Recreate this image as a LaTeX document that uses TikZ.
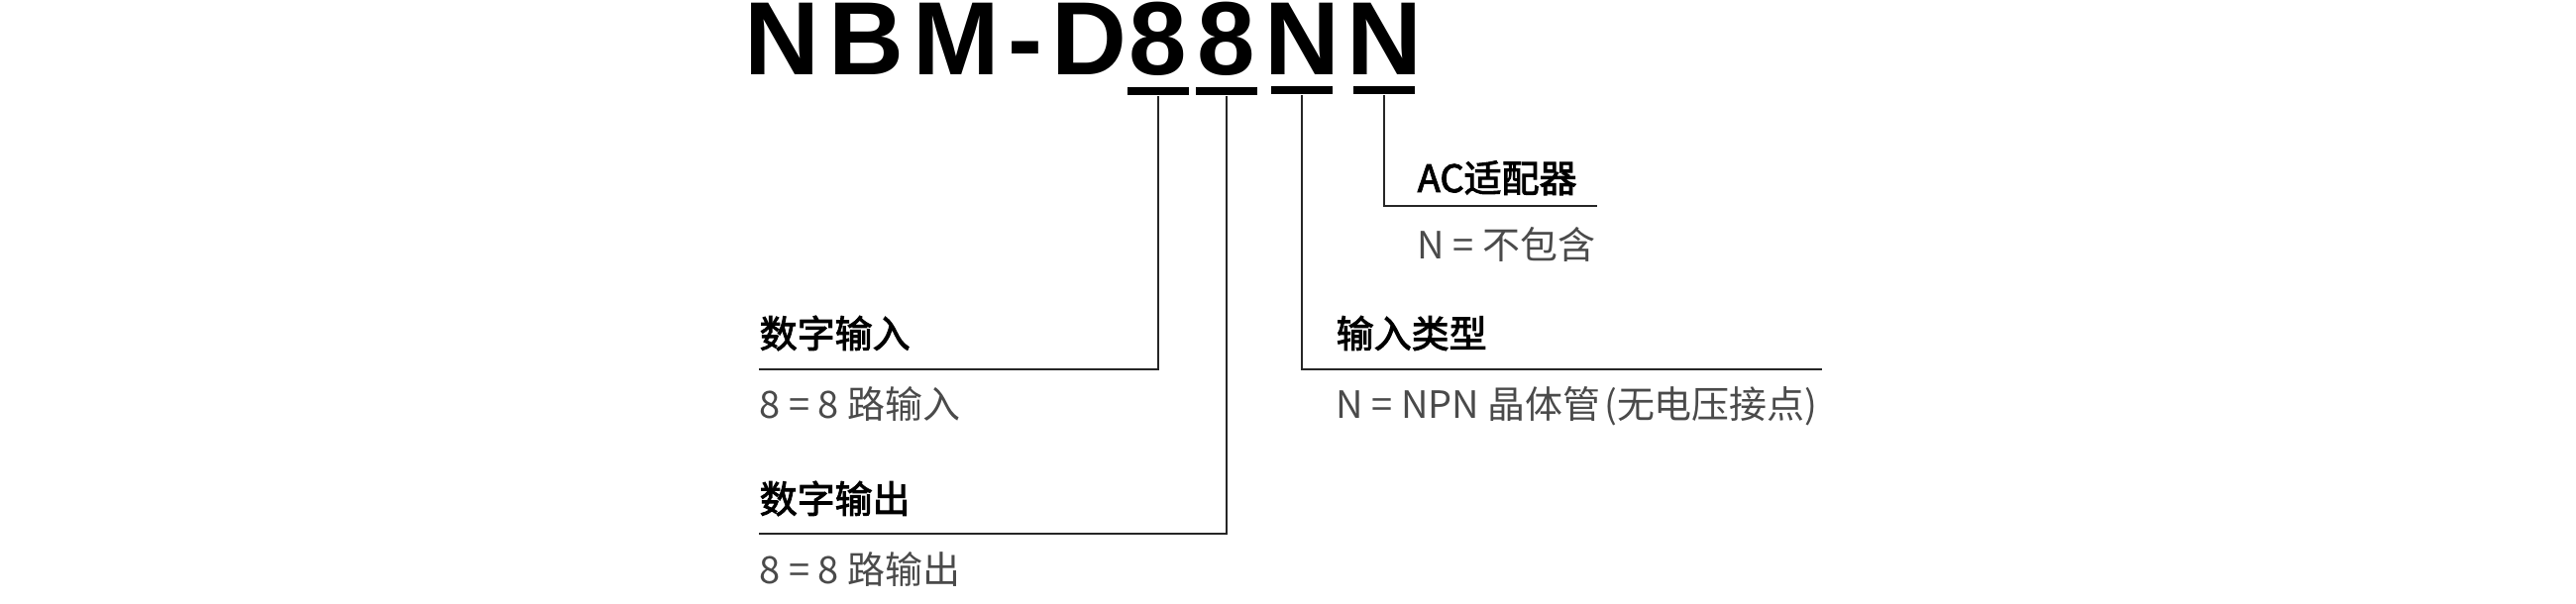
\documentclass[tikz,border=0pt]{standalone}
\usepackage{fontspec}
\setmainfont{Noto Sans CJK SC}
\newfontfamily\headfont{Noto Sans CJK SC}[FakeBold=2.5]
\newfontfamily\codefont{Liberation Sans}[LetterSpace=8.3]
\newfontfamily\digitfont{Liberation Sans}
\usepackage{xcolor}
\usepackage{tikz}
\usetikzlibrary{positioning}
\definecolor{valgray}{HTML}{4a4a4a}

\begin{document}
\begin{tikzpicture}
      [ x=0.01cm, y=-0.01cm,
        code/.style={inner sep=0pt, anchor=base,
          font=\digitfont\bfseries\fontsize{29.9pt}{36pt}\selectfont},
        bar/.style={fill, inner sep=0pt, minimum width=0.62cm, minimum height=0.08cm},
        heading/.style={inner sep=0pt, anchor=base west,
          font=\headfont\fontsize{10.8pt}{13pt}\selectfont},
        value/.style={inner sep=0pt, anchor=base west, text=valgray,
          font=\fontsize{10.8pt}{13pt}\selectfont},
        wire/.style={line width=0.6pt, black!85}
      ]
      \useasboundingbox (0,0) rectangle (2600,610);

      \node[code, anchor=base west,
        font=\codefont\bfseries\fontsize{29.9pt}{36pt}\selectfont] (pre) at (751,76) {NBM-D};
      \node[code] (d_1) at (1169,76) {8};
      \node[code] (d_2) at (1238,76) {8};
      \node[code] (n_1) at (1314,76) {N};
      \node[code] (n_2) at (1397,76) {N};

      \node[bar, below=0.10cm of d_1] (bar_1) {};
      \node[bar, below=0.10cm of d_2] (bar_2) {};
      \node[bar, below=0.10cm of n_1] (bar_3) {};
      \node[bar, below=0.10cm of n_2] (bar_4) {};

      \node[heading] (ac)    at (1430,194) {AC适配器};
      \node[value]   (acv)   at (1430,262) {N = 不包含};
      \node[heading] (in)    at (766,351)  {数字输入};
      \node[value]   (inv)   at (766,423)  {8 = 8 路输入};
      \node[heading] (type)  at (1348,351) {输入类型};
      \node[value]   (typev) at (1348,423) {N = NPN 晶体管\kern1pt(无电压接点)};
      \node[heading] (out)   at (766,518)  {数字输出};
      \node[value]   (outv)  at (766,590)  {8 = 8 路输出};

      \coordinate (ac_end)   at (1612,208);
      \coordinate (in_end)   at (766,373);
      \coordinate (type_end) at (1839,373);
      \coordinate (out_end)  at (766,539);

      \draw[wire] (bar_1.south) |- (in_end);
      \draw[wire] (bar_2.south) |- (out_end);
      \draw[wire] (bar_3.south) |- (type_end);
      \draw[wire] (bar_4.south) |- (ac_end);
    \end{tikzpicture}
\end{document}
